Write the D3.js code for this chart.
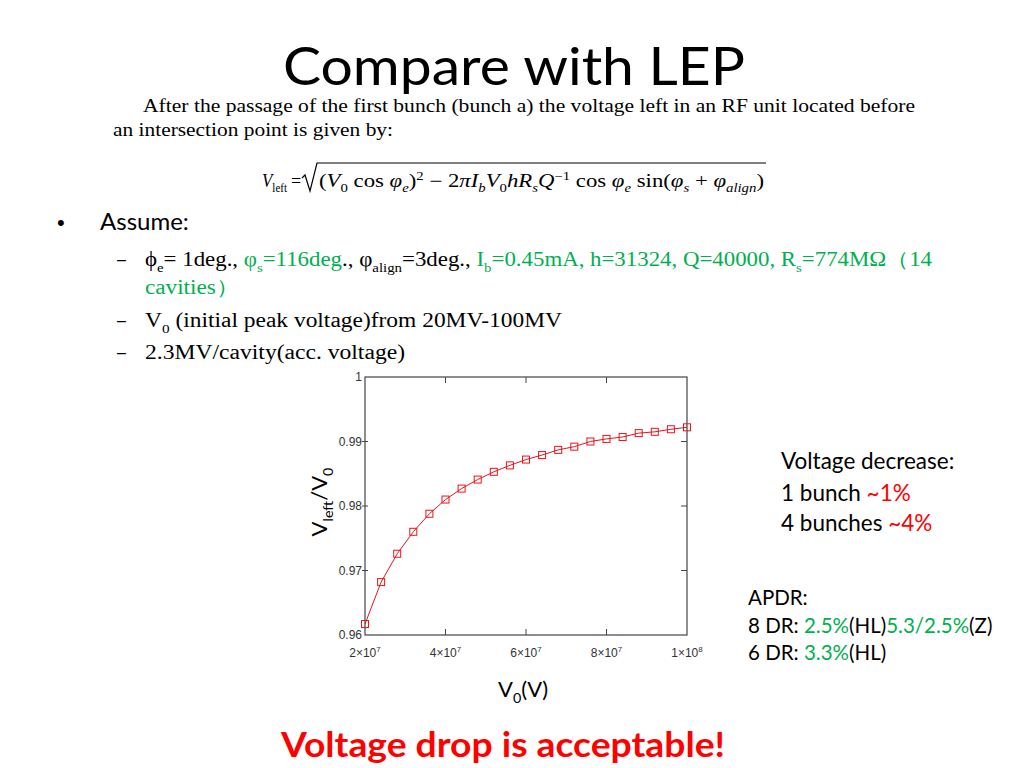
<!DOCTYPE html>
<html>
<head>
<meta charset="utf-8">
<script src="https://cdn.jsdelivr.net/npm/d3@7"></script>
<style>
  html, body { margin: 0; padding: 0; background: #fff; }
  svg { display: block; }
</style>
</head>
<body>
<svg id="slide" width="1024" height="768"></svg>
<script>
// ── Data ──────────────────────────────────────────────────────────────────────
const V0 = [2.0e7, 2.4e7, 2.8e7, 3.2e7, 3.6e7, 4.0e7, 4.4e7, 4.8e7, 5.2e7, 5.6e7,
            6.0e7, 6.4e7, 6.8e7, 7.2e7, 7.6e7, 8.0e7, 8.4e7, 8.8e7, 9.2e7, 9.6e7, 1.0e8];
const RATIO = [0.9617, 0.9682, 0.9726, 0.9760, 0.9788, 0.9810, 0.9827, 0.9841, 0.9853, 0.9863,
               0.9872, 0.9879, 0.9887, 0.9892, 0.9900, 0.9904, 0.9907, 0.9913, 0.9915, 0.9919, 0.9922];
const X_TICKS = [2e7, 4e7, 6e7, 8e7, 1e8];
const X_TICK_LABELS = [["2", "7"], ["4", "7"], ["6", "7"], ["8", "7"], ["1", "8"]];
const Y_TICKS = [0.96, 0.97, 0.98, 0.99, 1];
const Y_TICK_LABELS = ["0.96", "0.97", "0.98", "0.99", "1"];

const GREEN = "#00b050", RED = "#ff0000";
const SANS = "Lato, 'Open Sans', sans-serif";
const SERIF = "'Liberation Serif', 'DejaVu Serif', serif";

const svg = d3.select("#slide");

// rich text: segments with optional sub / sup / italic / colour
function rich(x, y, size, family, segs, opt = {}) {
  const t = svg.append("text").attr("x", x).attr("y", y)
    .attr("font-family", family).attr("font-size", size).attr("fill", opt.fill || "#000");
  if (opt.len) t.attr("textLength", opt.len).attr("lengthAdjust", "spacingAndGlyphs");
  let cur = 0;
  segs.forEach(s => {
    if (typeof s === "string") s = { t: s };
    const off = s.sub ? size * 0.28 : s.sup ? -size * 0.4 : 0;
    const ts = t.append("tspan").attr("dy", off - cur).text(s.t);
    cur = off;
    if (s.sub || s.sup) ts.attr("font-size", size * 0.65);
    if (s.i) ts.attr("font-style", "italic");
    if (s.fill) ts.attr("fill", s.fill);
    if (s.b) ts.attr("font-weight", "bold");
  });
  return t;
}

// ── Title & LEP excerpt ──────────────────────────────────────────────────────
svg.append("text").attr("x", 514).attr("y", 85).attr("text-anchor", "middle")
  .attr("font-family", SANS).attr("font-size", 52)
  .attr("textLength", 462).attr("lengthAdjust", "spacingAndGlyphs")
  .text("Compare with LEP");

rich(143, 112, 18, SERIF, ["After the passage of the first bunch (bunch a) the voltage left in an RF unit located before"], { len: 772 });
rich(113, 136, 18, SERIF, ["an intersection point is given by:"], { len: 280 });

rich(262, 187, 18, SERIF, [{ t: "V", i: 1 }, { t: "left", sub: 1 }], { len: 25 });
svg.append("text").attr("x", 291).attr("y", 187).attr("font-family", SERIF).attr("font-size", 18).text("=");
svg.append("path")
  .attr("d", "M302,178 L305,175 L310,191 L317,163 L766,163")
  .attr("fill", "none").attr("stroke", "#000").attr("stroke-width", 1.2);
rich(319, 187, 18, SERIF, [
  "(", { t: "V", i: 1 }, { t: "0", sub: 1 }, " cos ", { t: "φ", i: 1 }, { t: "e", sub: 1, i: 1 }, ")",
  { t: "2", sup: 1 }, " − 2", { t: "π", i: 1 }, { t: "I", i: 1 }, { t: "b", sub: 1, i: 1 },
  { t: "V", i: 1 }, { t: "0", sub: 1 }, { t: "hR", i: 1 }, { t: "s", sub: 1, i: 1 },
  { t: "Q", i: 1 }, { t: "−1", sup: 1 }, " cos ", { t: "φ", i: 1 }, { t: "e", sub: 1, i: 1 },
  " sin(", { t: "φ", i: 1 }, { t: "s", sub: 1, i: 1 }, " + ", { t: "φ", i: 1 },
  { t: "align", sub: 1, i: 1 }, ")"
], { len: 445 });

// ── Bullets ──────────────────────────────────────────────────────────────────
svg.append("text").attr("x", 57).attr("y", 230).attr("font-family", "Arial, sans-serif")
  .attr("font-size", 22).text("•");
svg.append("text").attr("x", 100).attr("y", 230).attr("font-family", SANS)
  .attr("font-size", 24).text("Assume:");

[266, 327, 359].forEach(y =>
  svg.append("text").attr("x", 115).attr("y", y).attr("font-family", SANS)
    .attr("font-size", 20).attr("textLength", 13).attr("lengthAdjust", "spacingAndGlyphs").text("–"));

rich(145, 266, 20, SERIF, [
  "ϕ", { t: "e", sub: 1 }, "= 1deg., ",
  { t: "φ", fill: GREEN }, { t: "s", sub: 1, fill: GREEN }, { t: "=116deg", fill: GREEN }, "., φ",
  { t: "align", sub: 1 }, "=3deg., ",
  { t: "I", fill: GREEN }, { t: "b", sub: 1, fill: GREEN },
  { t: "=0.45mA, h=31324, Q=40000, R", fill: GREEN }, { t: "s", sub: 1, fill: GREEN },
  { t: "=774MΩ（14", fill: GREEN }
], { len: 787 });
rich(145, 294, 20, SERIF, [{ t: "cavities）", fill: GREEN }], { len: 94 });
rich(145, 327, 20, SERIF, ["V", { t: "0", sub: 1 }, " (initial peak voltage)from 20MV-100MV"], { len: 417 });
rich(145, 359, 20, SERIF, ["2.3MV/cavity(acc. voltage)"], { len: 260 });

// ── Plot ─────────────────────────────────────────────────────────────────────
const x = d3.scaleLinear().domain([2e7, 1e8]).range([365, 687]);
const y = d3.scaleLinear().domain([0.96, 1]).range([635, 377]);
const AX = "#444";
const g = svg.append("g");

g.append("rect").attr("x", x(2e7)).attr("y", y(1))
  .attr("width", x(1e8) - x(2e7)).attr("height", y(0.96) - y(1))
  .attr("fill", "none").attr("stroke", AX).attr("stroke-width", 1.2);

// inner ticks on all four sides
const innerX = X_TICKS.slice(1, -1), innerY = Y_TICKS.slice(1, -1);
g.selectAll("line.xt").data(innerX).join("line").attr("class", "xt")
  .attr("x1", d => x(d)).attr("x2", d => x(d))
  .attr("y1", y(0.96)).attr("y2", y(0.96) - 6).attr("stroke", AX);
g.selectAll("line.xtt").data(innerX).join("line").attr("class", "xtt")
  .attr("x1", d => x(d)).attr("x2", d => x(d))
  .attr("y1", y(1)).attr("y2", y(1) + 6).attr("stroke", AX);
g.selectAll("line.yt").data(innerY).join("line").attr("class", "yt")
  .attr("x1", x(2e7) - 3).attr("x2", x(2e7) + 3)
  .attr("y1", d => y(d)).attr("y2", d => y(d)).attr("stroke", AX);
g.selectAll("line.ytr").data(innerY).join("line").attr("class", "ytr")
  .attr("x1", x(1e8)).attr("x2", x(1e8) - 6)
  .attr("y1", d => y(d)).attr("y2", d => y(d)).attr("stroke", AX);

// tick labels
g.selectAll("text.yl").data(Y_TICKS).join("text").attr("class", "yl")
  .attr("x", x(2e7) - 3).attr("y", d => y(d)).attr("dy", "0.35em")
  .attr("text-anchor", "end").attr("font-family", "'Liberation Sans', Arial, sans-serif")
  .attr("font-size", 12).attr("fill", "#333")
  .text((d, i) => Y_TICK_LABELS[i]);

g.selectAll("text.xl").data(X_TICKS).join("text").attr("class", "xl")
  .attr("x", d => x(d)).attr("y", 657).attr("text-anchor", "middle")
  .attr("font-family", "'Liberation Sans', Arial, sans-serif").attr("font-size", 12).attr("fill", "#333")
  .each(function(d, i) {
    const t = d3.select(this);
    t.append("tspan").text(X_TICK_LABELS[i][0] + "×10");
    t.append("tspan").attr("dy", -5).attr("font-size", 8).text(X_TICK_LABELS[i][1]);
  });

// curve + square markers
const RC = "#e8141c";
const pts = V0.map((v, i) => ({ v, r: RATIO[i] }));
g.append("path").datum(pts)
  .attr("d", d3.line().x(d => x(d.v)).y(d => y(d.r)))
  .attr("fill", "none").attr("stroke", RC).attr("stroke-width", 1);
g.selectAll("rect.mk").data(pts).join("rect").attr("class", "mk")
  .attr("x", d => x(d.v) - 3.5).attr("y", d => y(d.r) - 3.5)
  .attr("width", 7).attr("height", 7)
  .attr("fill", "none").attr("stroke", RC).attr("stroke-width", 1);

// axis titles
rich(0, 0, 22, SANS, ["V", { t: "left", sub: 1 }, "/V", { t: "0", sub: 1 }])
  .attr("transform", "translate(327,502) rotate(-90)").attr("text-anchor", "middle");
rich(498, 697, 22, SANS, ["V", { t: "0", sub: 1 }, "(V)"]);

// ── Right-hand notes ─────────────────────────────────────────────────────────
rich(781, 469, 22.5, SANS, ["Voltage decrease:"]);
rich(781, 501, 22.5, SANS, ["1 bunch ", { t: "~1%", fill: RED }]);
rich(781, 531, 22.5, SANS, ["4 bunches ", { t: "~4%", fill: RED }]);
rich(748, 605, 20.5, SANS, ["APDR:"]);
rich(748, 633, 20.5, SANS, ["8 DR: ", { t: "2.5%", fill: GREEN }, "(HL)", { t: "5.3/2.5%", fill: GREEN }, "(Z)"]);
rich(748, 660, 20.5, SANS, ["6 DR: ", { t: "3.3%", fill: GREEN }, "(HL)"]);

// ── Conclusion ───────────────────────────────────────────────────────────────
svg.append("text").attr("x", 503).attr("y", 757).attr("text-anchor", "middle")
  .attr("font-family", SANS).attr("font-weight", "bold").attr("font-size", 34)
  .attr("fill", RED).attr("textLength", 444).attr("lengthAdjust", "spacingAndGlyphs")
  .text("Voltage drop is acceptable!");
</script>
</body>
</html>
